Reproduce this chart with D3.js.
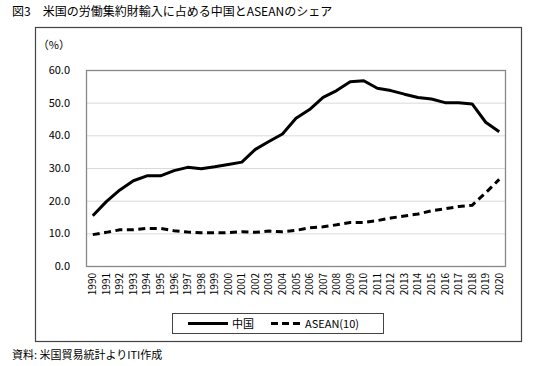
<!DOCTYPE html>
<html><head><meta charset="utf-8">
<script src="https://cdn.jsdelivr.net/npm/d3@7"></script>
<style>body{margin:0;background:#fff}svg{display:block}text{font-family:"Noto Sans CJK JP",sans-serif;fill:#000}</style>
</head><body><svg id="c" width="550" height="366"></svg>
<script>
const years = d3.range(1990, 2021).map(String);
const china = [15.4,19.7,23.3,26.1,27.6,27.6,29.2,30.2,29.8,30.4,31.1,31.8,35.7,38.1,40.4,45.2,47.9,51.6,53.7,56.4,56.7,54.4,53.7,52.6,51.6,51.1,50.0,50.0,49.6,44.0,41.1];
const asean = [9.6,10.3,11.1,11.1,11.5,11.5,10.8,10.4,10.2,10.2,10.2,10.5,10.3,10.7,10.5,10.9,11.7,12.0,12.6,13.3,13.3,13.9,14.7,15.3,15.9,16.9,17.5,18.2,18.6,22.4,26.5];
const yTicks = [0,10,20,30,40,50,60];
const seriesNames = ["中国","ASEAN(10)"];
const title = "図3　米国の労働集約財輸入に占める中国とASEANのシェア";
const source = "資料: 米国貿易統計よりITI作成";

const svg = d3.select("#c");
const L=86,R=506,T=70,B=266;
const x = d3.scaleBand().domain(years).range([L,R]);
const y = d3.scaleLinear().domain([0,60]).range([B,T]);

svg.append("text").attr("x",12).attr("y",16).attr("font-size",12).text(title);
svg.append("rect").attr("x",35.5).attr("y",27.5).attr("width",486).attr("height",314).attr("fill","none").attr("stroke","#444").attr("stroke-width",1.2);

// grid
svg.append("g").selectAll("line").data(yTicks.filter(d=>d>0&&d<60)).join("line")
 .attr("x1",L).attr("x2",R).attr("y1",d=>y(d)+0.5).attr("y2",d=>y(d)+0.5).attr("stroke","#d9d9d9").attr("stroke-width",1);
svg.append("rect").attr("x",L+0.5).attr("y",T+0.5).attr("width",R-L-1).attr("height",B-T).attr("fill","none").attr("stroke","#888").attr("stroke-width",1.3);

// y axis
const ya = svg.append("g").attr("transform",`translate(${L},0)`).call(d3.axisLeft(y).tickValues(yTicks).tickFormat(d3.format(".1f")).tickSize(0).tickPadding(16));
ya.select(".domain").remove();
ya.selectAll("text").attr("font-size",11).style("font-family",'"Noto Sans CJK JP",sans-serif');
svg.append("text").attr("x",70).attr("y",49).attr("text-anchor","end").attr("font-size",11).text("（%）");

// x axis
const xa = svg.append("g").attr("transform",`translate(0,${B})`).call(d3.axisBottom(x).tickSize(0));
xa.select(".domain").remove();
xa.selectAll("text").attr("font-size",10).style("font-family",'"Noto Sans CJK JP",sans-serif')
 .attr("transform","rotate(-90)").attr("text-anchor","end").attr("dy","0.35em").attr("x",-7).attr("y",0);

const line = d3.line().x((d,i)=>x(years[i])+x.bandwidth()/2).y(d=>y(d));
svg.append("path").datum(china).attr("d",line).attr("fill","none").attr("stroke","#000").attr("stroke-width",3).attr("stroke-linejoin","round");
svg.append("path").datum(asean).attr("d",line).attr("fill","none").attr("stroke","#000").attr("stroke-width",3).attr("stroke-dasharray","7,4.5");

// legend
const lg = svg.append("g");
lg.append("rect").attr("x",172.5).attr("y",313.5).attr("width",211).attr("height",20).attr("fill","#fff").attr("stroke","#444");
lg.append("line").attr("x1",188).attr("x2",228).attr("y1",323.5).attr("y2",323.5).attr("stroke","#000").attr("stroke-width",3);
lg.append("text").attr("x",232).attr("y",328).attr("font-size",11).text(seriesNames[0]);
lg.append("line").attr("x1",271).attr("x2",300).attr("y1",323.5).attr("y2",323.5).attr("stroke","#000").attr("stroke-width",3).attr("stroke-dasharray","7,4");
lg.append("text").attr("x",305).attr("y",328).attr("font-size",11).text(seriesNames[1]);

svg.append("text").attr("x",12).attr("y",359).attr("font-size",11).text(source);
</script></body></html>
